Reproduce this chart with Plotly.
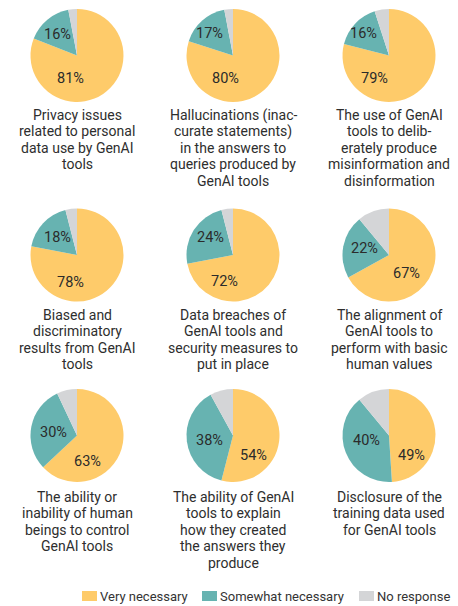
import plotly.graph_objects as go

categories = ["Very necessary", "Somewhat necessary", "No response"]
very = [81, 80, 79, 78, 72, 67, 63, 54, 49]
somewhat = [16, 17, 16, 18, 24, 22, 30, 38, 40]
no_resp = [3, 3, 5, 4, 4, 11, 7, 8, 11]
captions = [
    ["Privacy issues", "related to personal", "data use by GenAI", "tools"],
    ["Hallucinations (inac-", "curate statements)", "in the answers to", "queries produced by", "GenAI tools"],
    ["The use of GenAI", "tools to delib-", "erately produce", "misinformation and", "disinformation"],
    ["Biased and", "discriminatory", "results from GenAI", "tools"],
    ["Data breaches of", "GenAI tools and", "security measures to", "put in place"],
    ["The alignment of", "GenAI tools to", "perform with basic", "human values"],
    ["The ability or", "inability of human", "beings to control", "GenAI tools"],
    ["The ability of GenAI", "tools to explain", "how they created", "the answers they", "produce"],
    ["Disclosure of the", "training data used", "for GenAI tools"],
]
colors = ["#FECB6A", "#67B3B1", "#D4D5D7"]

# layout (pixels)
W, H = 458, 606
col_cx = [77, 233, 389]
row_cy = [55.5, 255, 435.5]
cap_top = [115, 315, 497]
R = 46.5
LINE = 16.4
FONT = "Roboto, Arial, sans-serif"
# label offsets from pie centre (px, y down) for the two labelled slices
off_very = [(-7, 23), (-8, 22.5), (-15, 22.5), (-7, 27), (-9, 26), (17, 18), (10, 26), (20, 20), (22, 20)]
off_some = [(-20, -21), (-24, -22), (-26, -22), (-20, -18), (-23, -18), (-25, -7), (-24, -3.5), (-24, 4.5), (-23, 4.5)]


def px(x):
    return x / W


def py(y):
    return 1 - y / H


fig = go.Figure()
annotations = []
shapes = []
for i in range(9):
    r, c = divmod(i, 3)
    cx, cy = col_cx[c], row_cy[r]
    fig.add_trace(go.Pie(
        labels=categories,
        values=[very[i], somewhat[i], no_resp[i]],
        textinfo="none",
        sort=False,
        direction="clockwise",
        rotation=0,
        marker=dict(colors=colors, line=dict(width=0)),
        hoverinfo="label+value",
        showlegend=False,
        domain=dict(x=[px(cx - R), px(cx + R)], y=[py(cy + R), py(cy - R)]),
    ))
    for val, (dx, dy) in ((very[i], off_very[i]), (somewhat[i], off_some[i])):
        annotations.append(dict(
            text=f"{val}%", x=px(cx + dx), y=py(cy + dy),
            xref="paper", yref="paper", xanchor="center", yanchor="middle",
            showarrow=False, font=dict(family=FONT, size=14.5, color="#2b2b2b"),
        ))
    for k, line in enumerate(captions[i]):
        annotations.append(dict(
            text=line, x=px(cx), y=py(cap_top[r] + k * LINE),
            xref="paper", yref="paper", xanchor="center", yanchor="middle",
            showarrow=False, font=dict(family=FONT, size=14, color="#2e2e2e"),
        ))

# legend: swatches + labels
leg_x = [82, 202, 359]
leg_y = 596
for lx, name, col in zip(leg_x, categories, colors):
    shapes.append(dict(type="rect", xref="paper", yref="paper",
                       x0=px(lx), x1=px(lx + 15), y0=py(leg_y + 5), y1=py(leg_y - 5),
                       fillcolor=col, line=dict(width=0)))
    annotations.append(dict(
        text=name, x=px(lx + 16), y=py(leg_y), xref="paper", yref="paper",
        xanchor="left", yanchor="middle", showarrow=False,
        font=dict(family=FONT, size=13, color="#333333"),
    ))

fig.update_layout(
    width=W, height=H,
    margin=dict(l=0, r=0, t=0, b=0),
    paper_bgcolor="white", plot_bgcolor="white",
    annotations=annotations,
    shapes=shapes,
    showlegend=False,
)
fig.write_html("out.html", config={"displayModeBar": False},
               post_script="document.body.style.margin='0';")
